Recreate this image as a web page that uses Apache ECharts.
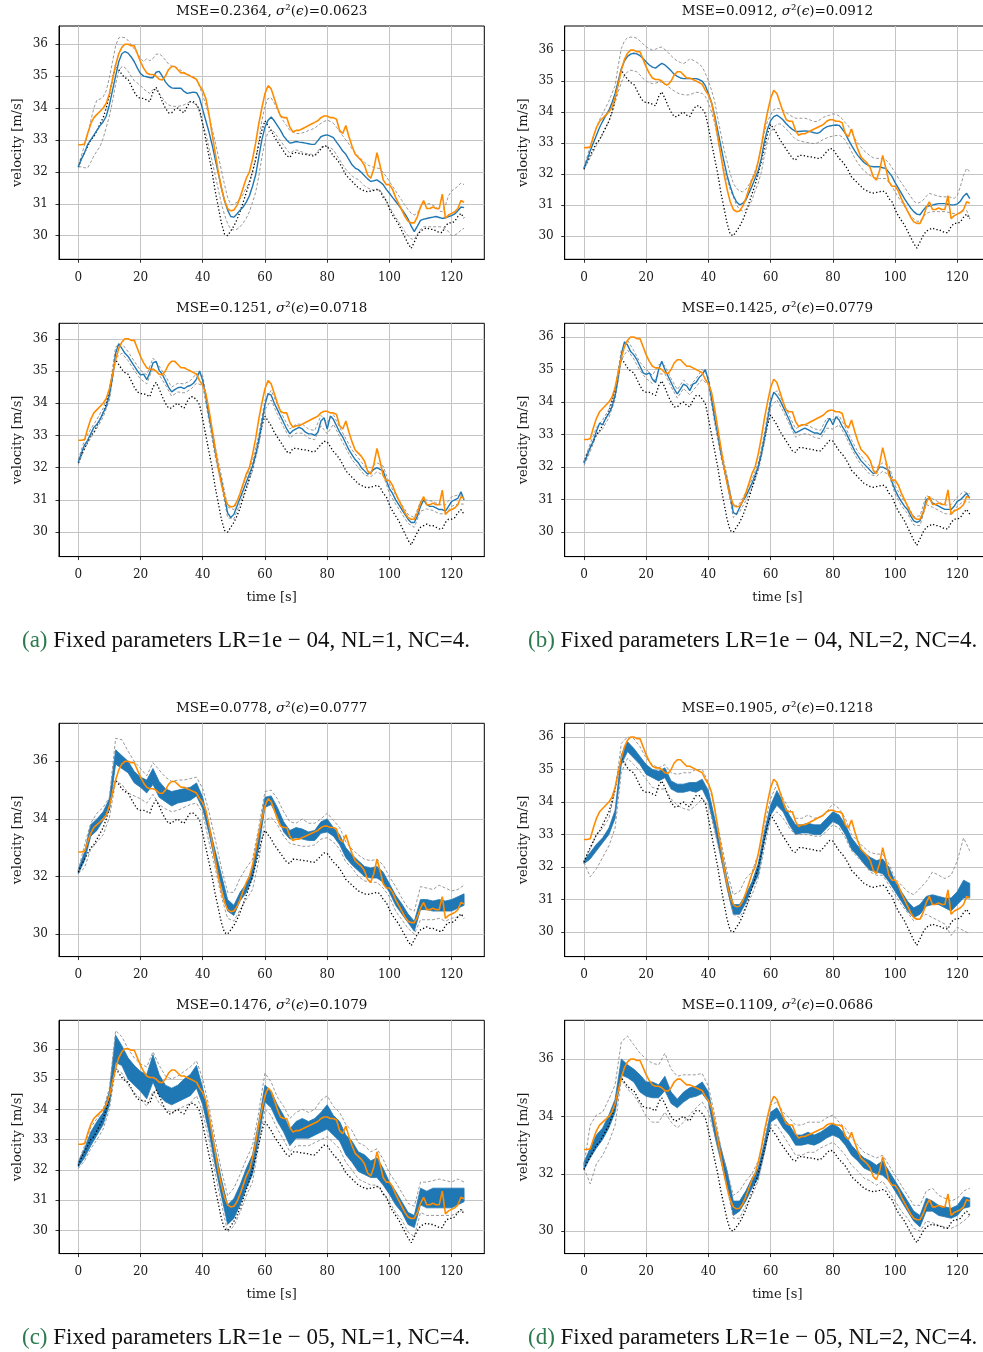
<!DOCTYPE html>
<html>
<head>
<meta charset="utf-8">
<title>Velocity prediction panels</title>
<script src="https://cdn.jsdelivr.net/npm/echarts@6/dist/echarts.min.js"></script>
<style>
  html, body { margin: 0; padding: 0; background: #ffffff; }
  #chart { width: 983px; height: 1352px; }
</style>
</head>
<body>
<div id="chart"></div>
<script>
// ---------------------------------------------------------------------------
// Data (velocity in m/s). Main traces are sampled every 1 s (t = 0..124),
// band traces of the lower panels every 2 s (t = 0, 2, ..., 124).
// ---------------------------------------------------------------------------
const xTickValues = [0, 20, 40, 60, 80, 100, 120];
const yTicksUnit = [30, 31, 32, 33, 34, 35, 36];
const yTicksEven = [30, 32, 34, 36];

// measured velocity (orange)
const measured = [
  32.85,32.85,32.87,33.2,33.5,33.7,33.8,33.9,34.0,34.15,
  34.45,34.9,35.35,35.7,35.9,36.0,36.0,35.95,35.95,35.7,
  35.45,35.25,35.1,35.05,35.05,35.0,34.9,34.88,35.0,35.2,
  35.3,35.3,35.2,35.1,35.1,35.05,35.0,34.95,34.9,34.7,
  34.55,34.3,33.8,33.2,32.6,32.0,31.5,31.1,30.85,30.78,
  30.8,30.95,31.2,31.5,31.8,32.0,32.4,32.9,33.5,34.0,
  34.45,34.7,34.6,34.3,34.0,33.75,33.7,33.7,33.4,33.25,
  33.3,33.3,33.35,33.4,33.45,33.5,33.55,33.6,33.7,33.75,
  33.75,33.7,33.7,33.65,33.3,33.2,33.45,33.1,32.8,32.55,
  32.45,32.35,32.2,31.9,31.8,32.1,32.6,32.2,31.75,31.6,
  31.6,31.45,31.2,31.0,30.8,30.6,30.45,30.4,30.4,30.6,
  30.9,31.1,30.85,30.85,30.9,30.85,30.85,31.3,30.55,30.65,
  30.7,30.75,30.85,31.1,31.05
];

// reference trace (black dotted)
const baseline = [
  32.15,32.4,32.6,32.8,33.0,33.1,33.3,33.5,33.7,34.0,
  34.4,34.9,35.35,35.2,35.05,34.95,34.9,34.7,34.5,34.35,
  34.3,34.3,34.25,34.2,34.5,34.65,34.45,34.2,34.0,33.85,
  33.85,33.95,34.0,33.9,33.85,34.05,34.2,34.2,34.1,33.95,
  33.5,33.0,32.5,32.0,31.4,30.9,30.4,30.05,30.0,30.15,
  30.3,30.5,30.75,31.05,31.35,31.65,32.0,32.4,32.85,33.3,
  33.6,33.45,33.3,33.1,32.95,32.8,32.65,32.5,32.45,32.6,
  32.6,32.58,32.56,32.55,32.53,32.5,32.5,32.6,32.72,32.82,
  32.8,32.65,32.5,32.4,32.27,32.1,31.9,31.8,31.7,31.6,
  31.5,31.45,31.4,31.38,31.4,31.42,31.45,31.4,31.2,31.1,
  30.85,30.65,30.5,30.35,30.15,29.95,29.75,29.6,29.8,30.0,
  30.15,30.2,30.25,30.2,30.2,30.15,30.1,30.1,30.3,30.4,
  30.4,30.45,30.6,30.7,30.55
];

// (a) LR=1e-04, NL=1 : first run
const a1Mean = [
  32.15,32.4,32.6,32.85,33.0,33.15,33.3,33.45,33.57,33.75,
  34.1,34.55,35.0,35.45,35.7,35.77,35.72,35.6,35.45,35.25,
  35.08,35.0,34.98,34.95,34.95,35.12,35.15,35.0,34.82,34.7,
  34.63,34.62,34.62,34.62,34.52,34.46,34.48,34.5,34.48,34.3,
  33.95,33.6,33.25,32.85,32.4,31.95,31.5,31.1,30.8,30.6,
  30.58,30.68,30.8,30.9,31.05,31.25,31.55,31.9,32.45,33.0,
  33.4,33.62,33.72,33.6,33.45,33.3,33.12,33.0,32.9,32.92,
  32.95,32.93,32.92,32.9,32.88,32.86,32.86,32.98,33.1,33.14,
  33.16,33.12,33.07,32.93,32.8,32.65,32.55,32.38,32.22,32.12,
  32.07,31.98,31.88,31.78,31.7,31.72,31.75,31.68,31.6,31.45,
  31.33,31.2,31.08,30.95,30.82,30.68,30.52,30.3,30.13,30.3,
  30.48,30.52,30.54,30.56,30.58,30.6,30.57,30.54,30.56,30.6,
  30.63,30.68,30.78,30.9,30.88
];
const a1Upper = [
  32.2,32.5,32.85,33.15,33.6,34.0,34.25,34.28,34.35,34.55,
  34.95,35.45,35.95,36.2,36.22,36.2,36.12,35.98,35.85,35.72,
  35.55,35.45,35.55,35.48,35.55,35.68,35.7,35.62,35.5,35.38,
  35.32,35.28,35.25,35.18,35.12,35.05,35.02,34.98,34.88,34.67,
  34.4,34.1,33.75,33.35,32.95,32.5,32.05,31.6,31.2,30.97,
  30.98,31.05,31.15,31.3,31.5,31.7,32.0,32.35,32.95,33.6,
  34.05,34.3,34.32,34.15,33.95,33.75,33.58,33.45,33.3,33.25,
  33.2,33.2,33.22,33.25,33.3,33.33,33.37,33.45,33.52,33.58,
  33.62,33.58,33.52,33.4,33.26,33.13,33.0,32.87,32.72,32.6,
  32.5,32.4,32.3,32.22,32.17,32.14,32.12,32.1,31.98,31.85,
  31.7,31.55,31.4,31.25,31.1,30.95,30.82,30.7,30.65,30.7,
  30.9,31.0,31.0,31.0,30.95,30.9,30.78,30.75,30.95,31.25,
  31.4,31.47,31.55,31.65,31.6
];
const a1Lower = [
  32.15,32.16,32.13,32.12,32.3,32.5,32.65,32.8,33.05,33.4,
  33.75,34.2,34.75,35.15,35.3,35.27,35.15,35.0,34.85,34.78,
  34.7,34.6,34.52,34.46,34.58,34.58,34.45,34.32,34.18,34.1,
  34.06,34.05,34.05,34.07,34.1,34.15,34.2,34.16,34.1,33.85,
  33.5,33.2,32.75,32.35,31.9,31.45,31.0,30.65,30.38,30.2,
  30.18,30.2,30.28,30.4,30.55,30.75,31.05,31.35,31.85,32.45,
  32.95,33.25,33.3,33.25,33.1,32.98,32.83,32.7,32.58,32.65,
  32.69,32.65,32.62,32.58,32.56,32.55,32.53,32.65,32.77,32.8,
  32.79,32.75,32.69,32.53,32.38,32.22,32.08,31.97,31.87,31.8,
  31.76,31.66,31.56,31.5,31.45,31.43,31.43,31.43,31.28,31.1,
  30.92,30.73,30.58,30.43,30.28,30.12,30.0,29.9,29.88,30.05,
  30.2,30.28,30.28,30.28,30.28,30.28,30.28,30.27,30.2,30.13,
  30.0,30.02,30.07,30.18,30.23
];

// (b) LR=1e-04, NL=2 : first run
const b1Mean = [
  32.18,32.45,32.75,33.0,33.25,33.5,33.7,33.88,34.05,34.3,
  34.6,35.0,35.4,35.65,35.8,35.87,35.9,35.88,35.82,35.73,
  35.62,35.52,35.45,35.42,35.5,35.57,35.52,35.43,35.33,35.22,
  35.15,35.1,35.08,35.08,35.08,35.08,35.08,35.05,35.0,34.85,
  34.6,34.3,33.9,33.4,32.9,32.4,31.95,31.6,31.3,31.1,
  31.0,31.05,31.15,31.38,31.6,31.85,32.1,32.5,33.05,33.45,
  33.72,33.85,33.9,33.83,33.74,33.62,33.52,33.44,33.37,33.37,
  33.38,33.39,33.38,33.36,33.33,33.31,33.36,33.46,33.52,33.55,
  33.57,33.58,33.57,33.45,33.31,33.1,32.92,32.75,32.6,32.48,
  32.37,32.3,32.25,32.23,32.23,32.23,32.2,32.18,32.05,31.92,
  31.72,31.55,31.38,31.2,31.05,30.9,30.78,30.7,30.68,30.82,
  30.94,30.97,30.99,31.02,31.04,31.04,31.04,31.02,31.0,31.0,
  31.03,31.12,31.28,31.37,31.2
];
const b1Upper = [
  32.2,32.55,32.9,33.2,33.5,33.75,33.95,34.15,34.35,34.6,
  34.85,35.5,36.05,36.3,36.4,36.42,36.42,36.38,36.3,36.2,
  36.1,36.05,36.0,36.03,36.08,36.1,36.02,35.93,35.82,35.72,
  35.65,35.6,35.57,35.62,35.72,35.68,35.62,35.55,35.46,35.25,
  35.0,34.7,34.35,33.8,33.3,32.8,32.4,32.0,31.7,31.53,
  31.45,31.42,31.5,31.65,31.85,32.1,32.4,32.85,33.35,33.7,
  33.9,34.08,34.12,34.1,34.06,33.98,33.9,33.85,33.8,33.8,
  33.8,33.8,33.77,33.73,33.69,33.7,33.76,33.83,33.87,33.9,
  33.94,33.93,33.87,33.78,33.65,33.55,33.35,33.15,33.0,32.87,
  32.75,32.66,32.58,32.52,32.5,32.5,32.5,32.45,32.36,32.2,
  32.04,31.87,31.72,31.57,31.42,31.27,31.12,31.05,31.08,31.15,
  31.28,31.37,31.34,31.31,31.28,31.26,31.26,31.26,31.24,31.21,
  31.3,31.6,31.95,32.18,32.07
];
const b1Lower = [
  32.15,32.33,32.52,32.72,32.92,33.1,33.3,33.5,33.7,33.98,
  34.3,34.65,34.95,35.19,35.3,35.35,35.33,35.3,35.2,35.08,
  35.0,34.95,34.92,34.93,34.97,34.97,34.9,34.83,34.75,34.68,
  34.62,34.58,34.56,34.55,34.56,34.6,34.64,34.63,34.6,34.5,
  34.3,34.0,33.65,33.15,32.6,32.15,31.8,31.5,31.25,31.0,
  30.85,30.8,30.85,30.95,31.15,31.45,31.7,32.05,32.6,33.05,
  33.35,33.5,33.6,33.62,33.55,33.45,33.35,33.22,33.12,33.08,
  33.05,33.03,33.01,32.99,32.98,33.0,33.06,33.12,33.16,33.2,
  33.22,33.24,33.25,33.2,33.09,32.92,32.72,32.52,32.35,32.22,
  32.1,32.02,31.95,31.89,31.86,31.85,31.85,31.85,31.72,31.6,
  31.42,31.25,31.1,30.95,30.8,30.65,30.55,30.47,30.47,30.6,
  30.72,30.76,30.78,30.78,30.78,30.78,30.78,30.76,30.73,30.72,
  30.72,30.74,30.8,30.82,30.56
];

// (a) LR=1e-04, NL=1 : second run (band sampled every 2 s)
const a2Mean = [
  32.17,32.45,32.7,32.85,33.05,33.25,33.35,33.5,33.7,33.9,
  34.25,34.8,35.55,35.85,35.7,35.55,35.45,35.3,35.15,35.0,
  34.88,34.9,34.73,34.95,35.25,35.3,35.02,34.9,34.7,34.5,
  34.35,34.42,34.48,34.5,34.45,34.52,34.55,34.62,34.75,35.0,
  34.7,34.2,33.6,33.1,32.5,32.0,31.6,31.1,30.6,30.45,
  30.55,30.8,31.05,31.3,31.55,31.8,32.05,32.4,32.85,33.4,
  33.95,34.3,34.25,34.0,33.8,33.6,33.4,33.2,33.05,33.15,
  33.2,33.25,33.2,33.1,33.05,33.05,33.0,33.1,33.45,33.55,
  33.2,33.6,33.5,33.3,33.1,32.95,32.75,32.55,32.4,32.25,
  32.15,32.0,31.9,31.8,31.85,31.95,32.0,31.95,31.9,31.6,
  31.35,31.2,31.0,30.85,30.7,30.55,30.4,30.3,30.3,30.5,
  30.8,31.0,30.85,30.8,30.8,30.75,30.7,30.7,30.65,30.8,
  30.95,31.0,31.05,31.25,31.0
];
const a2Upper = [
  32.25,32.85,33.2,33.5,33.85,34.4,35.75,35.85,35.6,35.3,
  35.02,34.88,35.4,35.15,34.85,34.5,34.62,34.6,34.7,34.92,
  34.85,33.75,32.65,31.75,30.78,30.7,31.2,31.7,32.2,33.0,
  34.1,34.4,33.95,33.55,33.2,33.35,33.35,33.2,33.15,33.62,
  33.4,33.65,33.25,32.9,32.55,32.3,32.05,32.0,32.15,32.05,
  31.5,31.15,30.85,30.55,30.45,30.95,31.0,30.95,30.85,30.85,
  31.1,31.15,31.15
];
const a2Lower = [
  32.1,32.58,32.92,33.22,33.57,34.1,35.4,35.55,35.32,35.02,
  34.75,34.6,35.1,34.88,34.57,34.22,34.35,34.32,34.42,34.62,
  34.55,33.45,32.35,31.45,30.45,30.4,30.9,31.4,31.9,32.7,
  33.8,34.1,33.65,33.25,32.92,33.07,33.07,32.92,32.87,33.3,
  33.05,33.35,32.97,32.6,32.25,32.0,31.77,31.72,31.87,31.77,
  31.2,30.87,30.57,30.27,30.15,30.65,30.72,30.67,30.57,30.57,
  30.8,30.87,30.87
];

// (b) LR=1e-04, NL=2 : second run
const b2Mean = [
  32.12,32.35,32.6,32.8,33.1,33.35,33.3,33.5,33.65,33.85,
  34.2,34.75,35.45,35.85,35.75,35.55,35.45,35.3,35.1,34.9,
  34.85,34.9,34.7,34.6,35.0,35.25,35.0,34.8,34.6,34.4,
  34.25,34.4,34.55,34.5,34.35,34.55,34.6,34.75,34.85,35.0,
  34.65,34.1,33.5,33.0,32.45,32.0,31.6,31.15,30.6,30.55,
  30.75,30.95,31.1,31.3,31.5,31.75,32.0,32.4,32.9,33.45,
  34.0,34.3,34.2,34.05,33.85,33.65,33.45,33.2,33.05,33.1,
  33.15,33.2,33.15,33.1,33.05,33.05,33.0,33.15,33.35,33.5,
  33.3,33.55,33.45,33.25,33.1,32.9,32.7,32.5,32.35,32.2,
  32.1,32.0,31.9,31.8,31.85,32.0,32.0,31.95,31.9,31.55,
  31.3,31.1,30.95,30.8,30.7,30.5,30.35,30.3,30.35,30.6,
  31.0,31.05,30.9,30.85,30.8,30.75,30.7,30.7,30.7,30.8,
  30.95,31.0,31.1,31.2,31.05
];
const b2Upper = [
  32.2,32.72,33.22,33.45,33.78,34.35,35.6,35.9,35.58,35.22,
  35.0,34.82,35.15,35.12,34.72,34.38,34.68,34.48,34.72,35.0,
  34.78,33.65,32.58,31.72,30.75,30.88,31.22,31.62,32.12,33.05,
  34.15,34.35,33.98,33.58,33.18,33.28,33.28,33.18,33.13,33.5,
  33.45,33.58,33.23,32.83,32.48,32.23,32.03,31.98,32.13,32.05,
  31.43,31.08,30.83,30.48,30.5,31.13,31.03,30.93,30.83,30.85,
  31.08,31.25,31.18
];
const b2Lower = [
  32.05,32.48,32.98,33.18,33.52,34.07,35.3,35.6,35.32,34.97,
  34.72,34.57,34.86,34.87,34.47,34.12,34.42,34.22,34.47,34.7,
  34.52,33.35,32.32,31.47,30.45,30.62,30.97,31.37,31.87,32.75,
  33.85,34.07,33.72,33.32,32.92,33.02,33.02,32.92,32.87,33.2,
  33.17,33.3,32.97,32.57,32.22,31.97,31.77,31.72,31.87,31.77,
  31.17,30.82,30.57,30.22,30.2,30.85,30.77,30.67,30.57,30.55,
  30.8,30.95,30.92
];

// (c) LR=1e-05, NL=1 : first run (noisy mean given as its low/high envelope)
const c1MeanLow = [
  32.1,32.55,33.4,33.6,33.95,34.3,35.9,35.75,35.6,35.25,
  35.1,34.9,35.2,34.75,34.6,34.45,34.55,34.6,34.65,34.8,
  34.35,33.5,32.5,31.7,30.8,30.65,31.15,31.45,31.95,33.0,
  34.4,34.5,34.1,33.55,33.3,33.35,33.3,33.25,33.25,33.5,
  33.55,33.4,33.1,32.65,32.4,32.2,32.0,31.95,31.95,31.8,
  31.45,31.0,30.7,30.4,30.1,30.85,30.85,30.8,30.8,30.8,
  30.8,30.9,31.0
];
const c1MeanHigh = [
  32.25,32.85,33.8,34.0,34.25,34.7,36.4,36.2,36.0,35.65,
  35.45,35.35,35.75,35.3,35.05,34.95,35.0,35.05,35.1,35.25,
  34.75,33.8,32.9,32.05,31.2,31.0,31.45,31.75,32.3,33.45,
  34.75,34.8,34.4,33.9,33.6,33.7,33.65,33.55,33.6,33.9,
  34.0,33.7,33.45,33.0,32.75,32.55,32.35,32.3,32.35,32.15,
  31.75,31.35,31.05,30.7,30.45,31.2,31.2,31.15,31.2,31.15,
  31.2,31.3,31.4
];
const c1Upper = [
  32.2,33.1,33.85,34.2,34.4,34.75,36.8,36.75,36.35,36.0,
  35.75,35.5,35.95,35.7,35.45,35.3,35.35,35.35,35.4,35.45,
  35.05,34.25,33.3,32.3,31.45,31.45,31.95,32.3,32.6,33.7,
  34.95,35.0,34.7,34.25,33.9,33.85,34.0,33.85,33.85,34.0,
  34.2,33.95,33.7,33.2,32.95,32.75,32.6,32.55,32.6,32.4,
  32.0,31.65,31.25,30.9,30.8,31.65,31.6,31.55,31.7,31.6,
  31.5,31.55,31.7
];
const c1Lower = [
  32.1,32.3,32.95,33.2,33.45,34.05,35.3,35.2,34.9,34.8,
  34.7,34.55,34.85,34.5,34.35,34.25,34.3,34.4,34.5,34.55,
  34.2,33.2,32.3,31.3,30.55,30.45,30.85,31.2,31.55,32.55,
  33.95,34.05,33.8,33.4,33.15,33.1,33.05,33.05,33.1,33.3,
  33.35,33.2,32.95,32.5,32.3,32.0,31.85,31.8,31.8,31.6,
  31.3,30.8,30.5,30.2,30.0,30.5,30.5,30.5,30.55,30.45,
  30.55,30.6,30.7
];

// (d) LR=1e-05, NL=2 : first run
const d1MeanLow = [
  32.1,32.25,32.5,32.75,33.0,33.5,35.15,35.55,35.35,35.15,
  34.85,34.75,34.65,34.75,34.4,34.3,34.3,34.35,34.3,34.4,
  34.0,33.2,32.3,31.35,30.55,30.55,30.9,31.35,31.75,32.8,
  33.6,33.9,33.7,33.3,33.0,33.05,33.05,33.0,33.0,33.2,
  33.4,33.3,33.0,32.55,32.35,32.1,31.9,31.85,31.8,31.55,
  31.25,30.95,30.65,30.45,30.55,30.8,30.85,30.85,30.75,30.65,
  30.85,31.05,31.05
];
const d1MeanHigh = [
  32.2,32.45,32.7,32.9,33.2,33.75,35.45,35.85,35.65,35.4,
  35.15,35.0,34.95,35.05,34.65,34.55,34.55,34.6,34.6,34.7,
  34.35,33.5,32.6,31.65,30.85,30.85,31.15,31.55,32.1,33.1,
  33.9,34.35,34.0,33.6,33.3,33.3,33.35,33.3,33.3,33.5,
  33.7,33.6,33.3,32.9,32.65,32.45,32.3,32.2,32.25,32.0,
  31.55,31.25,30.95,30.75,30.85,31.1,31.15,31.1,31.05,31.05,
  31.25,31.6,31.5
];
const d1Upper = [
  32.2,32.55,33.0,33.2,33.5,34.35,35.8,36.0,35.95,35.7,
  35.35,35.15,35.05,35.15,34.9,34.85,34.9,34.9,35.0,35.0,
  34.6,33.8,32.8,31.85,31.15,31.25,31.65,31.85,32.4,33.3,
  34.1,34.55,34.1,33.8,33.5,33.5,33.6,33.5,33.55,33.7,
  33.95,33.8,33.5,33.0,32.8,32.6,32.45,32.4,32.4,32.1,
  31.65,31.45,31.25,31.15,31.35,31.55,31.85,31.75,31.65,31.75,
  32.2,32.9,32.5
];
const d1Lower = [
  32.15,31.7,31.95,32.3,32.65,33.2,34.9,35.35,35.15,34.95,
  34.7,34.45,34.4,34.4,34.1,33.9,33.8,33.75,33.9,34.1,
  33.9,33.1,32.3,31.35,30.55,30.45,30.75,31.15,31.65,32.6,
  33.5,33.7,33.5,33.2,33.0,33.0,33.0,32.95,32.95,33.1,
  33.3,33.2,32.9,32.5,32.3,32.1,31.85,31.75,31.75,31.45,
  31.15,30.85,30.6,30.35,30.45,30.55,30.45,30.35,30.25,29.9,
  30.15,30.05,29.95
];

// (c) LR=1e-05, NL=1 : second run
const c2MeanLow = [
  32.1,32.4,32.8,33.15,33.5,34.15,35.55,35.45,35.0,34.8,
  34.6,34.35,34.9,34.45,34.25,34.15,34.25,34.35,34.45,34.7,
  34.15,33.25,32.15,31.15,30.2,30.4,30.85,31.4,31.85,33.05,
  34.25,34.05,33.6,33.25,32.8,33.05,33.05,33.05,33.15,33.25,
  33.35,33.15,32.95,32.5,32.25,31.95,31.85,31.75,31.75,31.5,
  31.2,30.85,30.6,30.2,30.1,30.85,30.75,30.75,30.75,30.75,
  30.75,30.85,30.95
];
const c2MeanHigh = [
  32.27,32.7,33.25,33.6,33.9,34.6,36.45,36.1,35.7,35.45,
  35.25,35.15,35.8,35.15,34.8,34.7,34.8,35.0,35.15,35.45,
  34.7,33.8,32.7,31.7,30.85,31.05,31.5,32.05,32.5,33.6,
  34.8,34.6,34.15,33.8,33.35,33.6,33.7,33.6,33.7,33.9,
  34.15,33.8,33.6,33.15,32.95,32.6,32.5,32.3,32.4,32.05,
  31.6,31.3,30.95,30.6,30.5,31.4,31.3,31.4,31.4,31.4,
  31.4,31.4,31.4
];
const c2Upper = [
  32.25,32.8,33.4,33.7,34.0,34.7,36.6,36.4,36.0,35.7,
  35.5,35.4,35.9,35.45,35.1,35.0,35.1,35.25,35.4,35.6,
  35.0,34.1,33.0,32.0,31.15,31.4,31.85,32.35,32.8,33.9,
  35.2,34.9,34.4,34.1,33.7,33.9,34.0,33.9,34.0,34.3,
  34.45,34.1,33.9,33.5,33.3,32.9,32.8,32.6,32.7,32.35,
  31.9,31.6,31.25,30.9,30.8,31.6,31.6,31.65,31.7,31.65,
  31.6,31.7,31.6
];
const c2Lower = [
  32.05,32.3,32.7,33.0,33.35,34.0,35.35,35.2,34.8,34.55,
  34.35,34.1,34.6,34.2,34.0,33.9,34.0,34.1,34.2,34.45,
  33.9,33.0,31.9,30.9,29.95,30.15,30.6,31.15,31.6,32.8,
  34.0,33.8,33.35,33.0,32.6,32.8,32.8,32.8,32.9,33.0,
  33.1,32.9,32.7,32.25,32.0,31.7,31.6,31.5,31.5,31.25,
  30.95,30.6,30.35,29.95,29.8,30.6,30.5,30.5,30.5,30.5,
  30.5,30.6,30.7
];

// (d) LR=1e-05, NL=2 : second run
const d2MeanLow = [
  32.15,32.55,32.9,33.2,33.6,34.15,35.45,35.35,35.2,34.85,
  34.7,34.65,34.65,34.9,34.45,34.3,34.5,34.65,34.7,34.8,
  34.5,33.35,32.45,31.6,30.55,30.7,31.05,31.5,31.85,32.75,
  33.8,33.95,33.6,33.35,33.0,33.0,33.05,33.0,33.1,33.25,
  33.35,33.25,33.0,32.65,32.45,32.2,32.1,32.0,31.95,31.75,
  31.4,31.05,30.7,30.35,30.15,30.7,30.7,30.55,30.5,30.45,
  30.55,30.8,30.85
];
const d2MeanHigh = [
  32.4,32.9,33.35,33.6,34.05,34.6,36.0,35.8,35.65,35.45,
  35.2,35.2,35.1,35.4,34.85,34.6,34.85,35.0,35.05,35.2,
  34.85,33.8,32.9,32.1,31.05,31.05,31.4,31.85,32.2,33.1,
  34.15,34.3,33.95,33.7,33.35,33.35,33.45,33.35,33.45,33.6,
  33.75,33.6,33.35,33.0,32.75,32.55,32.45,32.3,32.45,32.1,
  31.75,31.4,31.05,30.7,30.55,31.15,31.05,30.9,30.85,30.8,
  30.9,31.2,31.15
];
const d2Upper = [
  32.3,33.7,34.05,34.15,34.6,35.1,36.6,36.8,36.5,36.2,
  36.0,35.85,35.8,36.2,35.65,35.4,35.45,35.45,35.45,35.5,
  35.05,34.05,32.9,32.1,31.25,31.4,31.75,32.0,32.45,33.25,
  34.4,34.5,34.15,33.95,33.7,33.7,33.8,33.8,33.8,33.95,
  34.05,33.8,33.6,33.25,33.0,32.75,32.65,32.55,32.65,32.3,
  31.95,31.6,31.25,30.9,30.9,31.4,31.5,31.25,31.15,31.05,
  31.15,31.4,31.5
];
const d2Lower = [
  32.2,31.65,32.35,32.65,33.1,33.7,35.3,34.95,34.75,34.4,
  34.0,33.8,33.8,34.15,33.8,33.6,33.8,34.05,34.3,34.5,
  34.15,33.35,32.45,31.5,30.45,30.45,30.9,31.25,31.75,32.75,
  33.7,33.7,33.35,33.0,32.65,32.65,32.75,32.75,32.9,33.0,
  33.1,32.9,32.65,32.3,32.1,31.85,31.75,31.6,31.75,31.4,
  31.05,30.7,30.45,30.1,30.0,30.35,30.3,30.2,30.15,30.1,
  30.2,30.35,30.55
];

const mseValues   = ['0.2364', '0.0912', '0.1251', '0.1425', '0.0778', '0.1905', '0.1476', '0.1109'];
const noiseValues = ['0.0623', '0.0912', '0.0718', '0.0779', '0.0777', '0.1218', '0.1079', '0.0686'];

const captions = [
  { tag: '(a)', text: ' Fixed parameters LR=1e \u2212 04, NL=1, NC=4.' },
  { tag: '(b)', text: ' Fixed parameters LR=1e \u2212 04, NL=2, NC=4.' },
  { tag: '(c)', text: ' Fixed parameters LR=1e \u2212 05, NL=1, NC=4.' },
  { tag: '(d)', text: ' Fixed parameters LR=1e \u2212 05, NL=2, NC=4.' }
];

// ---------------------------------------------------------------------------
// Layout and styling
// ---------------------------------------------------------------------------
const SERIF = 'DejaVu Serif';
const CAPTION_FONT = 'Liberation Serif';
const BLUE = '#1f77b4';
const ORANGE = '#ff8c00';
const GRAY = '#8c8c8c';

const colLeft = [59, 564.7];
const rowTop = [26, 323.3, 723.3, 1020.3];
const plotW = 425.3;
const plotH = 233.3;
const xRange = [-6.2, 130.5];

// one entry per panel, in drawing order
const panels = [
  { col: 0, row: 0, y: [29.26, 36.57], ticks: yTicksUnit, mean: a1Mean, upper: a1Upper, lower: a1Lower, bandStep: 1, xName: false },
  { col: 1, row: 0, y: [29.24, 36.78], ticks: yTicksUnit, mean: b1Mean, upper: b1Upper, lower: b1Lower, bandStep: 1, xName: false },
  { col: 0, row: 1, y: [29.24, 36.48], ticks: yTicksUnit, mean: a2Mean, upper: a2Upper, lower: a2Lower, bandStep: 2, xName: true },
  { col: 1, row: 1, y: [29.25, 36.42], ticks: yTicksUnit, mean: b2Mean, upper: b2Upper, lower: b2Lower, bandStep: 2, xName: true },
  { col: 0, row: 2, y: [29.22, 37.32], ticks: yTicksEven, envLow: c1MeanLow, envHigh: c1MeanHigh, upper: c1Upper, lower: c1Lower, bandStep: 2, xName: false },
  { col: 1, row: 2, y: [29.25, 36.42], ticks: yTicksUnit, envLow: d1MeanLow, envHigh: d1MeanHigh, upper: d1Upper, lower: d1Lower, bandStep: 2, xName: false },
  { col: 0, row: 3, y: [29.24, 36.94], ticks: yTicksUnit, envLow: c2MeanLow, envHigh: c2MeanHigh, upper: c2Upper, lower: c2Lower, bandStep: 2, xName: true },
  { col: 1, row: 3, y: [29.22, 37.35], ticks: yTicksEven, envLow: d2MeanLow, envHigh: d2MeanHigh, upper: d2Upper, lower: d2Lower, bandStep: 2, xName: true }
];

function pairs(values, step) {
  return values.map(function (v, i) { return [i * step, v]; });
}

function lineSeries(gi, data, color, width, type) {
  return {
    type: 'line', xAxisIndex: gi, yAxisIndex: gi, data: data,
    symbol: 'none', showSymbol: false, silent: true, animation: false,
    lineStyle: { color: color, width: width, type: type || 'solid' }
  };
}

// filled envelope of a noisy mean trace: one polygon through the high edge
// (left to right) and back along the low edge, placed via the axes' scales
function envelopeSeries(gi, low, high, step) {
  const rows = low.map(function (v, i) { return [i * step, v, high[i]]; });
  return {
    type: 'custom', xAxisIndex: gi, yAxisIndex: gi, silent: true, animation: false, clip: true,
    data: [rows[0]],
    encode: { x: 0, y: [1, 2] },
    renderItem: function (params, api) {
      const pts = [];
      for (let i = 0; i < rows.length; i++) pts.push(api.coord([rows[i][0], rows[i][2]]));
      for (let i = rows.length - 1; i >= 0; i--) pts.push(api.coord([rows[i][0], rows[i][1]]));
      return {
        type: 'polygon',
        shape: { points: pts },
        style: { fill: BLUE, stroke: BLUE, lineWidth: 0.8 }
      };
    }
  };
}

const grids = [], xAxes = [], yAxes = [], series = [], titles = [];

panels.forEach(function (p, gi) {
  const left = colLeft[p.col];
  const top = rowTop[p.row];
  grids.push({
    left: left, top: top, width: plotW, height: plotH,
    containLabel: false, outerBoundsMode: 'none',
    show: true, borderColor: '#000', borderWidth: 1, backgroundColor: 'transparent'
  });

  xAxes.push({
    type: 'value', gridIndex: gi, min: xRange[0], max: xRange[1], splitNumber: 7,
    axisLine: { show: true, onZero: false, lineStyle: { color: '#000', width: 1 } },
    axisTick: { show: true, inside: false, length: 3.5, customValues: xTickValues, lineStyle: { color: '#000', width: 0.8 } },
    axisLabel: { customValues: xTickValues, margin: 12.5, fontFamily: SERIF, fontSize: 12, color: '#1a1a1a' },
    splitLine: { show: true, lineStyle: { color: '#c4c4c4', width: 1 } },
    name: p.xName ? 'time [s]' : '', nameLocation: 'middle', nameGap: 35,
    nameTextStyle: { fontFamily: SERIF, fontSize: 13, color: '#1a1a1a' }
  });

  yAxes.push({
    type: 'value', gridIndex: gi, min: p.y[0], max: p.y[1], splitNumber: p.ticks.length === 4 ? 4 : 7,
    axisLine: { show: true, onZero: false, lineStyle: { color: '#000', width: 1 } },
    axisTick: { show: true, inside: false, length: 3.5, customValues: p.ticks, lineStyle: { color: '#000', width: 0.8 } },
    axisLabel: { customValues: p.ticks, margin: 11, fontFamily: SERIF, fontSize: 12, color: '#1a1a1a' },
    splitLine: { show: true, lineStyle: { color: '#c4c4c4', width: 1 } },
    name: 'velocity [m/s]', nameLocation: 'middle', nameGap: 35, nameRotate: 90,
    nameTextStyle: { fontFamily: SERIF, fontSize: 13, color: '#1a1a1a' }
  });

  // uncertainty band, reference, prediction, measurement
  series.push(lineSeries(gi, pairs(p.lower, p.bandStep), GRAY, 0.9, [3, 2]));
  series.push(lineSeries(gi, pairs(p.upper, p.bandStep), GRAY, 0.9, [3, 2]));
  series.push(lineSeries(gi, pairs(baseline, 1), '#000', 1.3, [1.3, 2.2]));
  if (p.mean) {
    series.push(lineSeries(gi, pairs(p.mean, 1), BLUE, 1.4));
  } else {
    series.push(envelopeSeries(gi, p.envLow, p.envHigh, p.bandStep));
  }
  series.push(lineSeries(gi, pairs(measured, 1), ORANGE, 1.6));

  titles.push({
    text: '{n|MSE=' + mseValues[gi] + ', }{i|\u03c3}{n|\u00b2(}{i|\u03f5}{n|)=' + noiseValues[gi] + '}',
    left: left + plotW / 2, top: top - 15, textAlign: 'center', textVerticalAlign: 'middle', padding: 0,
    textStyle: {
      fontWeight: 'normal',
      rich: {
        n: { fontFamily: SERIF, fontSize: 13.5, fontWeight: 'normal', color: '#111', lineHeight: 16 },
        i: { fontFamily: SERIF, fontSize: 13.5, fontWeight: 'normal', fontStyle: 'italic', color: '#111', lineHeight: 16 }
      }
    }
  });
});

// sub-figure captions
const captionPos = [[22, 641], [528, 641], [22, 1338], [528, 1338]];
captions.forEach(function (c, k) {
  titles.push({
    text: '{g|' + c.tag + '}{t|' + c.text + '}',
    left: captionPos[k][0], top: captionPos[k][1], textAlign: 'left', textVerticalAlign: 'middle', padding: 0,
    textStyle: {
      fontWeight: 'normal',
      rich: {
        g: { fontFamily: CAPTION_FONT, fontSize: 23, fontWeight: 'normal', color: '#2c7a4e', lineHeight: 27 },
        t: { fontFamily: CAPTION_FONT, fontSize: 23, fontWeight: 'normal', color: '#111', lineHeight: 27 }
      }
    }
  });
});

const chart = echarts.init(document.getElementById('chart'), null, { renderer: 'canvas' });
chart.setOption({
  animation: false,
  backgroundColor: '#ffffff',
  title: titles,
  grid: grids,
  xAxis: xAxes,
  yAxis: yAxes,
  series: series
});
</script>
</body>
</html>
